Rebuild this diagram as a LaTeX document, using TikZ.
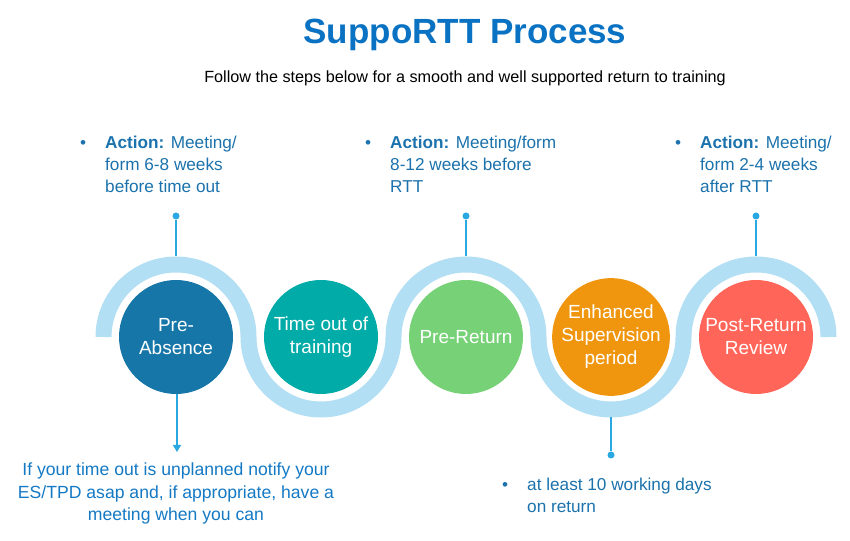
\documentclass[tikz,border=0pt]{standalone}
\usepackage{fontspec}
\setmainfont{Liberation Sans}
\usetikzlibrary{arrows.meta,positioning,calc}
\usepackage{xcolor}
\definecolor{bandblue}{HTML}{B3DFF4}
\definecolor{linkblue}{HTML}{2AA8E2}
\definecolor{actblue}{HTML}{1B72AC}
\definecolor{noteblue}{HTML}{1479C4}
\definecolor{titleblue}{HTML}{0A72C2}
\definecolor{pacol}{HTML}{1776A8}
\definecolor{tocol}{HTML}{00ABA8}
\definecolor{prcol}{HTML}{77D177}
\definecolor{escol}{HTML}{F0960E}
\definecolor{rvcol}{HTML}{FF6659}
\newcommand{\actfont}{\fontsize{17.2}{22}\selectfont}
\newcommand{\actitem}[1]{\begin{tabular}[t]{@{}p{25pt}@{}l@{}}\textbullet & #1\end{tabular}}

\begin{document}
\begin{tikzpicture}[x=1pt, y=1pt,
  >={Triangle[length=7pt, width=8pt]},
  stage/.style={circle, minimum size=114pt, inner sep=0pt, text=white,
    align=center, font=\fontsize{19}{23}\selectfont},
  dot/.style={circle, fill=linkblue, inner sep=0pt, minimum size=7pt},
  act/.style={anchor=base west, inner sep=0pt, text=actblue, font=\actfont},
  link/.style={draw=linkblue, line width=1.2pt}]

\useasboundingbox (0,0) rectangle (850,540);

% ===== heading =====
\node[text=titleblue, font=\fontsize{35}{40}\selectfont\bfseries] (title) at (465,505) {SuppoRTT Process};
\node[font=\fontsize{16.2}{19}\selectfont] (sub) at (465,462)
  {Follow the steps below for a smooth and well supported return to training};

% ===== band (S-curve round the stages) =====
\draw[bandblue, line width=16pt] (103.5,203)
  arc[start angle=180, end angle=0, radius=72.5]
  arc[start angle=180, end angle=360, radius=72.5]
  arc[start angle=180, end angle=0, radius=72.5]
  arc[start angle=180, end angle=360, radius=72.5]
  arc[start angle=180, end angle=0, radius=72.5];

% ===== stages =====
\node[stage, fill=pacol] (pa) at (176,203) {Pre-\\Absence};
\node[stage, fill=tocol] (to) at (321,203) {Time out of\\training};
\node[stage, fill=prcol] (pr) at (466,203) {Pre-Return};
\node[stage, fill=escol] (es) at (611,203) {Enhanced\\Supervision\\period};
\node[stage, fill=rvcol] (rv) at (756,203) {Post-Return\\Review};

% ===== actions =====
\node[act] (act1) at (80,391)  {\actitem{\textbf{Action:} Meeting/\\ & form 6-8 weeks\\ & before time out}};
\node[act] (act2) at (365,391) {\actitem{\textbf{Action:} Meeting/form\\ & 8-12 weeks before\\ & RTT}};
\node[act] (act3) at (675,391) {\actitem{\textbf{Action:} Meeting/\\ & form 2-4 weeks\\ & after RTT}};
\node[act] (act4) at (502,49)  {\actitem{at least 10 working days\\ & on return}};
\node[act, anchor=base, text=noteblue, font=\fontsize{17.6}{22.5}\selectfont] (note) at (176,64)
  {\begin{tabular}[t]{@{}c@{}}If your time out is unplanned notify your\\
   ES/TPD asap and, if appropriate, have a\\ meeting when you can\end{tabular}};

% ===== dots + ends on the band =====
\node[dot] (d1) at (176,324) {};
\node[dot] (d2) at (466,324) {};
\node[dot] (d3) at (756,324) {};
\node[dot] (d4) at (611,85) {};
\coordinate (b1) at (176,283.5);
\coordinate (b2) at (466,283.5);
\coordinate (b3) at (756,283.5);
\coordinate (b4) at (611,122.5);
\coordinate (tip) at (177,88);

% ===== links =====
\draw[link] (d1) -- (b1);
\draw[link] (d2) -- (b2);
\draw[link] (d3) -- (b3);
\draw[link] (b4) -- (d4);
\draw[link, ->, fill=linkblue] (pa.south -| tip) -- (tip);

\end{tikzpicture}
\end{document}
